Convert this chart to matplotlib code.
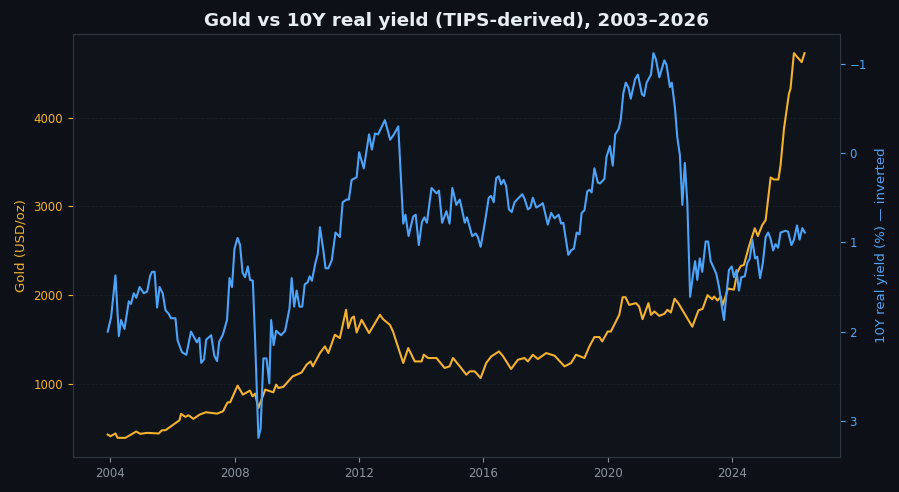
import numpy as np
import matplotlib
matplotlib.use("Agg")
import matplotlib.pyplot as plt

# gold price, USD/oz (decimal year, value)
gold_t = [2003.91, 2004.00, 2004.16, 2004.23, 2004.48, 2004.83, 2004.96, 2005.18, 2005.55, 2005.66,
          2005.77, 2006.22, 2006.27, 2006.41, 2006.51, 2006.67, 2006.87, 2007.07, 2007.43, 2007.62,
          2007.77, 2007.85, 2008.09, 2008.26, 2008.49, 2008.57, 2008.65, 2008.76, 2008.98, 2009.24,
          2009.33, 2009.40, 2009.56, 2009.86, 2009.99, 2010.15, 2010.31, 2010.44, 2010.51, 2010.74,
          2010.90, 2011.01, 2011.22, 2011.38, 2011.58, 2011.65, 2011.76, 2011.83, 2011.92, 2012.08,
          2012.32, 2012.67, 2012.77, 2012.99, 2013.09, 2013.42, 2013.58, 2013.79, 2014.01, 2014.08,
          2014.22, 2014.49, 2014.75, 2014.91, 2015.02, 2015.24, 2015.45, 2015.56, 2015.72, 2015.91,
          2016.09, 2016.25, 2016.50, 2016.62, 2016.89, 2017.11, 2017.32, 2017.43, 2017.59, 2017.75,
          2018.02, 2018.29, 2018.61, 2018.82, 2018.98, 2019.25, 2019.41, 2019.57, 2019.73, 2019.82,
          2020.00, 2020.10, 2020.37, 2020.48, 2020.57, 2020.69, 2020.91, 2021.01, 2021.12, 2021.31,
          2021.39, 2021.50, 2021.66, 2021.82, 2021.92, 2022.03, 2022.15, 2022.27, 2022.72, 2022.92,
          2023.05, 2023.21, 2023.36, 2023.42, 2023.53, 2023.64, 2023.69, 2023.87, 2024.06, 2024.17,
          2024.28, 2024.38, 2024.54, 2024.73, 2024.83, 2024.97, 2025.08, 2025.24, 2025.35, 2025.49,
          2025.56, 2025.67, 2025.83, 2025.88, 2025.99, 2026.24, 2026.33]
gold_usd = [430, 411, 442, 393, 393, 464, 438, 449, 442, 479,
            479, 591, 663, 629, 647, 607, 655, 681, 666, 692,
            793, 793, 981, 880, 925, 861, 891, 730, 936, 906,
            992, 955, 966, 1085, 1104, 1130, 1217, 1254, 1198, 1348,
            1423, 1348, 1554, 1517, 1835, 1629, 1742, 1760, 1580, 1722,
            1573, 1779, 1730, 1666, 1591, 1236, 1404, 1254, 1254, 1329,
            1292, 1292, 1180, 1198, 1292, 1198, 1104, 1142, 1142, 1067,
            1236, 1310, 1366, 1318, 1169, 1273, 1292, 1254, 1329, 1281,
            1348, 1318, 1198, 1236, 1329, 1292, 1423, 1528, 1528, 1479,
            1591, 1591, 1779, 1977, 1977, 1891, 1910, 1872, 1730, 1910,
            1779, 1816, 1767, 1790, 1835, 1805, 1960, 1910, 1645, 1830,
            1845, 2000, 1955, 1984, 1940, 1984, 1880, 2075, 2062, 2260,
            2329, 2340, 2546, 2753, 2666, 2790, 2846, 3326, 3303, 3303,
            3464, 3876, 4270, 4326, 4726, 4625, 4726]

# 10Y TIPS real yield, %
ry_t = [2003.91, 2004.02, 2004.16, 2004.27, 2004.34, 2004.45, 2004.59, 2004.66, 2004.75, 2004.83,
        2004.94, 2005.07, 2005.18, 2005.28, 2005.34, 2005.42, 2005.50, 2005.58, 2005.68, 2005.77,
        2005.87, 2005.95, 2006.09, 2006.16, 2006.30, 2006.44, 2006.59, 2006.78, 2006.86, 2006.92,
        2007.01, 2007.08, 2007.24, 2007.34, 2007.43, 2007.50, 2007.61, 2007.75, 2007.83, 2007.91,
        2007.99, 2008.09, 2008.17, 2008.25, 2008.33, 2008.42, 2008.49, 2008.58, 2008.65, 2008.76,
        2008.83, 2008.92, 2009.02, 2009.11, 2009.17, 2009.25, 2009.33, 2009.49, 2009.62, 2009.76,
        2009.83, 2009.91, 2009.99, 2010.08, 2010.17, 2010.25, 2010.34, 2010.41, 2010.48, 2010.60,
        2010.67, 2010.74, 2010.85, 2010.92, 2011.01, 2011.12, 2011.24, 2011.38, 2011.47, 2011.60,
        2011.67, 2011.76, 2011.92, 2012.00, 2012.15, 2012.32, 2012.41, 2012.51, 2012.61, 2012.83,
        2013.00, 2013.12, 2013.26, 2013.42, 2013.49, 2013.59, 2013.74, 2013.82, 2013.92, 2014.02,
        2014.10, 2014.18, 2014.33, 2014.49, 2014.57, 2014.67, 2014.81, 2014.91, 2015.00, 2015.13,
        2015.24, 2015.40, 2015.47, 2015.64, 2015.75, 2015.82, 2015.91, 2016.04, 2016.17, 2016.25,
        2016.33, 2016.41, 2016.49, 2016.57, 2016.65, 2016.73, 2016.82, 2016.91, 2017.00, 2017.11,
        2017.25, 2017.32, 2017.43, 2017.51, 2017.59, 2017.70, 2017.80, 2017.91, 2018.07, 2018.18,
        2018.29, 2018.42, 2018.50, 2018.57, 2018.73, 2018.82, 2018.91, 2019.00, 2019.09, 2019.16,
        2019.25, 2019.34, 2019.41, 2019.48, 2019.57, 2019.68, 2019.75, 2019.89, 2019.96, 2020.07,
        2020.16, 2020.24, 2020.35, 2020.42, 2020.50, 2020.58, 2020.67, 2020.74, 2020.88, 2020.97,
        2021.10, 2021.17, 2021.25, 2021.39, 2021.47, 2021.55, 2021.66, 2021.82, 2021.89, 2022.00,
        2022.06, 2022.16, 2022.24, 2022.32, 2022.40, 2022.48, 2022.56, 2022.65, 2022.74, 2022.81,
        2022.88, 2022.96, 2023.04, 2023.15, 2023.23, 2023.31, 2023.39, 2023.49, 2023.58, 2023.67,
        2023.74, 2023.82, 2023.90, 2023.99, 2024.06, 2024.14, 2024.22, 2024.30, 2024.41, 2024.49,
        2024.57, 2024.65, 2024.74, 2024.81, 2024.90, 2024.99, 2025.08, 2025.16, 2025.24, 2025.32,
        2025.40, 2025.48, 2025.56, 2025.72, 2025.80, 2025.91, 2025.99, 2026.09, 2026.17, 2026.26,
        2026.34]
ry_pct = [2.00, 1.84, 1.37, 2.05, 1.87, 1.97, 1.66, 1.69, 1.57, 1.62,
          1.50, 1.57, 1.55, 1.37, 1.33, 1.33, 1.73, 1.50, 1.57, 1.76,
          1.80, 1.85, 1.85, 2.10, 2.23, 2.26, 2.00, 2.12, 2.07, 2.35,
          2.31, 2.09, 2.04, 2.27, 2.33, 2.11, 2.04, 1.87, 1.40, 1.50,
          1.07, 0.95, 1.03, 1.34, 1.39, 1.27, 1.42, 1.43, 2.06, 3.19,
          3.09, 2.30, 2.30, 2.58, 1.87, 2.15, 1.99, 2.04, 1.99, 1.74,
          1.40, 1.72, 1.54, 1.72, 1.72, 1.47, 1.45, 1.38, 1.43, 1.22,
          1.13, 0.83, 1.09, 1.29, 1.29, 1.20, 0.89, 0.94, 0.55, 0.52,
          0.52, 0.30, 0.27, -0.01, 0.17, -0.21, -0.04, -0.22, -0.21, -0.37,
          -0.15, -0.21, -0.30, 0.79, 0.69, 0.93, 0.71, 0.69, 1.03, 0.77,
          0.72, 0.78, 0.39, 0.45, 0.42, 0.78, 0.65, 0.79, 0.39, 0.58,
          0.52, 0.78, 0.72, 0.93, 0.90, 0.94, 1.05, 0.79, 0.50, 0.48,
          0.55, 0.28, 0.26, 0.35, 0.30, 0.37, 0.63, 0.66, 0.55, 0.51,
          0.46, 0.51, 0.63, 0.61, 0.50, 0.61, 0.59, 0.56, 0.80, 0.67,
          0.73, 0.69, 0.79, 0.78, 1.14, 1.09, 1.07, 0.89, 0.91, 0.67,
          0.64, 0.43, 0.41, 0.44, 0.17, 0.33, 0.34, 0.29, 0.04, -0.08,
          0.14, -0.21, -0.27, -0.38, -0.67, -0.79, -0.73, -0.61, -0.83, -0.88,
          -0.66, -0.64, -0.79, -0.88, -1.12, -1.05, -0.85, -1.04, -0.99, -0.74,
          -0.79, -0.51, -0.17, 0.02, 0.58, 0.11, 0.56, 1.61, 1.37, 1.21,
          1.42, 1.18, 1.33, 0.99, 0.99, 1.21, 1.27, 1.35, 1.50, 1.72,
          1.87, 1.57, 1.31, 1.27, 1.39, 1.31, 1.54, 1.39, 1.38, 1.23,
          1.18, 0.97, 1.18, 1.16, 1.40, 1.23, 0.94, 0.89, 0.96, 1.09,
          1.02, 1.06, 0.89, 0.87, 0.88, 1.03, 0.97, 0.81, 0.97, 0.84,
          0.89]

year_ticks = [2004, 2008, 2012, 2016, 2020, 2024]

bg = "#0d1117"
panel = "#0f131a"
edge = "#30363d"
gold_c = "#f2b12e"
blue_c = "#4da3f7"

fig = plt.figure(figsize=(8.99, 4.92), dpi=100, facecolor=bg)
ax = fig.add_axes([0.081, 0.071, 0.853, 0.860])
ax.set_facecolor(panel)
ax2 = ax.twinx()

ax.plot(gold_t, gold_usd, color=gold_c, lw=1.5)
ax2.plot(ry_t, ry_pct, color=blue_c, lw=1.5)
ax2.invert_yaxis()

ax.set_xticks(year_ticks)
ax.set_xticklabels([str(y) for y in year_ticks])
ax.set_yticks([1000, 2000, 3000, 4000])
ax2.set_yticks([-1, 0, 1, 2, 3])

# very faint dashed grid on the gold axis only
ax.grid(axis="y", color="#1b2028", lw=0.6, ls="--")
for a in (ax, ax2):
    for s in a.spines.values():
        s.set_color(edge)
ax.tick_params(axis="x", colors="#8b949e", labelsize=8.5)
ax.tick_params(axis="y", colors=gold_c, labelsize=8.5)
ax2.tick_params(axis="y", colors=blue_c, labelsize=8.5)

ax.set_ylabel("Gold (USD/oz)", color=gold_c, fontsize=9.5)
ax2.set_ylabel("10Y real yield (%) — inverted", color=blue_c, fontsize=9.5, labelpad=6)
ax.set_title("Gold vs 10Y real yield (TIPS-derived), 2003–2026",
             color="#e6edf3", fontsize=13.2, fontweight="bold")

fig.savefig("out.png", dpi=100, facecolor=bg)
